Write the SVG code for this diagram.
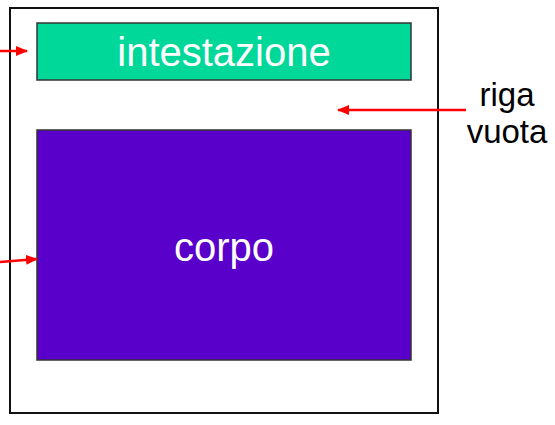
<svg xmlns="http://www.w3.org/2000/svg" width="555" height="425" viewBox="0 0 555 425">
<defs>
<style>
.lbl{font-family:"Liberation Sans",Arial,sans-serif;}
.box{stroke:#333;stroke-width:1.5;}
.arr{stroke:#f00;stroke-width:2.5;fill:none;marker-end:url(#ah);}
</style>
<marker id="ah" markerWidth="12" markerHeight="10" refX="11" refY="5" orient="auto" markerUnits="userSpaceOnUse">
<path d="M0,0 L12,5 L0,10 Z" fill="#f00"/>
</marker>
</defs>
<rect width="555" height="425" fill="#fff"/>
<g id="messaggio"><rect x="10" y="8" width="428" height="405" fill="#fff" stroke="#111" stroke-width="2"/></g>
<g id="intestazione"><rect class="box" x="37" y="23" width="374" height="57" fill="#00D89A"/><text class="lbl" x="224" y="66" font-size="40" text-anchor="middle" fill="#fff">intestazione</text></g>
<g id="corpo"><rect class="box" x="37" y="130" width="374" height="230" fill="#5900CB"/><text class="lbl" x="224" y="261" font-size="40" text-anchor="middle" fill="#fff">corpo</text></g>
<g id="riga-vuota"><text class="lbl" x="507" y="106" font-size="33" text-anchor="middle" fill="#000">riga</text><text class="lbl" x="507" y="143" font-size="33" text-anchor="middle" fill="#000">vuota</text></g>
<g id="connettori">
<line class="arr" x1="0" y1="51" x2="27" y2="51"/>
<line class="arr" x1="0" y1="262" x2="37" y2="259"/>
<line class="arr" x1="466" y1="110" x2="338" y2="110"/>
</g>
</svg>
